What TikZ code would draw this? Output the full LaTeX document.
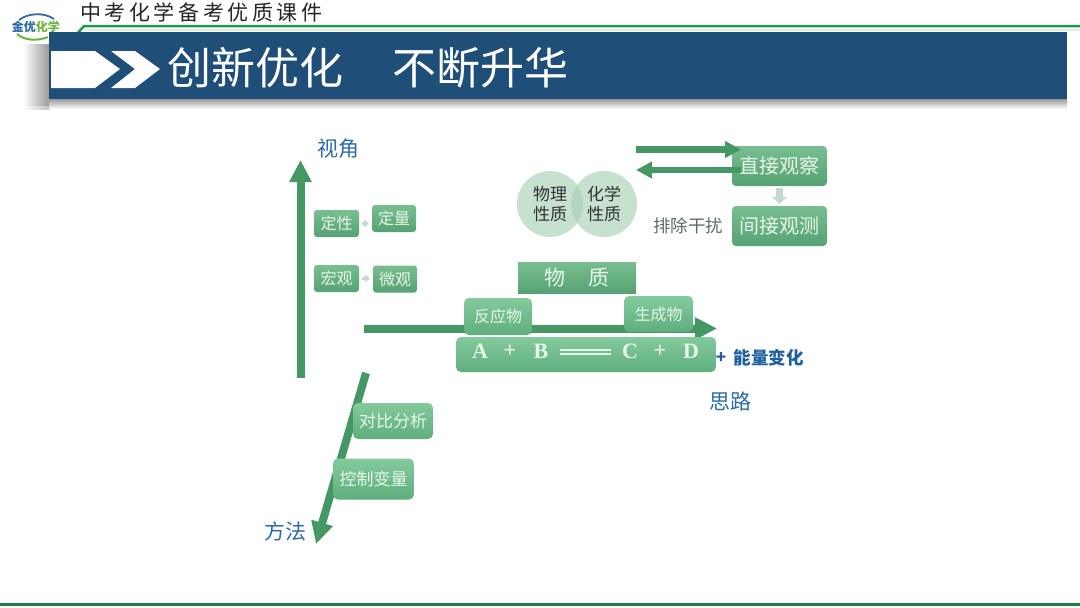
\documentclass[tikz,border=0pt]{standalone}
\usepackage{fontspec}
\setmainfont{Noto Sans CJK SC}
\newfontfamily\latinbold{Liberation Serif}
\usetikzlibrary{arrows.meta}
\definecolor{bannerblue}{HTML}{1F4E79}
\definecolor{arrgreen}{HTML}{459763}
\definecolor{linegreen}{HTML}{1E9A50}
\definecolor{boxtop}{HTML}{83CA9C}
\definecolor{boxbot}{HTML}{5FAE7D}
\definecolor{boxtopd}{HTML}{78BE90}
\definecolor{boxbotd}{HTML}{56A274}
\definecolor{boxtext}{HTML}{E8F6EA}
\definecolor{labelblue}{HTML}{2B6CA8}
\definecolor{energyblue}{HTML}{1F5F9F}
\definecolor{palearr}{HTML}{C4D9CA}
\definecolor{circlefill}{HTML}{A6CFB3}
\definecolor{logogreen}{HTML}{6FB23C}
\definecolor{greytext}{HTML}{5E6B60}
\definecolor{shadowgrey}{HTML}{9A9A9A}
\newcommand{\fs}[1]{\fontsize{#1}{#1}\selectfont}
\tikzset{
  gbox/.style={rounded corners=3pt,top color=boxtop,bottom color=boxbot,inner sep=0pt,
    text=boxtext,align=center,font=\fs{16}},
  dbox/.style={gbox,top color=boxtopd,bottom color=boxbotd},
  bigarr/.style={draw=arrgreen,line width=8pt,-{Triangle[width=21pt,length=22pt]}},
  midarr/.style={draw=arrgreen,line width=6.5pt,-{Triangle[width=16pt,length=16pt]}},
  tinyarr/.style={draw=palearr,line width=3pt,-{Triangle[width=8pt,length=5pt]},shorten >=3pt,shorten <=3pt},
  downarr/.style={draw=palearr,line width=7pt,-{Triangle[width=15pt,length=7pt]},shorten >=2pt,shorten <=2pt},
  axislabel/.style={text=labelblue,font=\fs{21}},
  circ/.style={circle,minimum size=66pt,inner sep=0pt,fill=circlefill,fill opacity=.62,
    text opacity=1,text=black!80,align=center,font=\fs{17}},
  titletxt/.style={text=white,font=\fs{44}},
  eqtxt/.style={text=boxtext,font=\latinbold\bfseries\fs{22}},
}
\begin{document}
\begin{tikzpicture}[x=1pt,y=-1pt]
\useasboundingbox (0,0) rectangle (1080,608);
\fill[white] (0,0) rectangle (1080,608);
% header
\node[anchor=west,inner sep=0pt,text=black!85,font=\addfontfeature{LetterSpace=17}\fs{21}] (head) at (80,12) {中考化学备考优质课件};
\draw[linegreen,line width=2.5pt] (76,35) -- (84,26) -- (1080,26);
\draw[green!25!black!10,line width=1.5pt] (84,30) -- (1080,30);
% banner shadow
\shade[left color=white,right color=shadowgrey] (23,44) rectangle (49,106);
\shade[top color=shadowgrey,bottom color=white] (49,99) rectangle (1067,109);
\shade[left color=white,right color=shadowgrey!60] (23,106) rectangle (49,109);
\fill[bannerblue] (49,32) rectangle (1067,99);
\fill[white] (51,51) -- (95,51) -- (120,69) -- (95,88) -- (51,88) -- cycle;
\fill[white] (111,51) -- (135,51) -- (160,69) -- (135,88) -- (111,88) -- (135,69) -- cycle;
\node[titletxt] (t1) at (255,68) {创新优化};
\node[titletxt] (t2) at (480,68) {不断升华};
% logo
\draw[labelblue,line width=1.8pt] (19,20) .. controls (28,13) and (44,12) .. (54,19);
\draw[logogreen,line width=2pt] (17,34) .. controls (25,41) and (38,41) .. (48,37);
\node[inner sep=0pt,font=\bfseries\fs{12},text=labelblue] (logo) at (36,27) {金优\textcolor{logogreen}{化学}};
% coordinates of arrows
\coordinate (ups) at (300.5,378);
\coordinate (upe) at (300.5,160);
\coordinate (hs) at (364,328.5);
\coordinate (he) at (717,328.5);
\coordinate (ds) at (366,373);
\coordinate (de) at (316,544);
\coordinate (a1s) at (636,149.5);
\coordinate (a1e) at (741,149.5);
\coordinate (a2s) at (741,170);
\coordinate (a2e) at (636,170);
\draw[bigarr] (ups) -- (upe);
\draw[bigarr] (hs) -- (he);
\draw[bigarr] (ds) -- (de);
% labels
\node[axislabel] (shijiao) at (338,149) {视角};
\node[axislabel] (silu) at (730,401) {思路};
\node[axislabel] (fangfa) at (285,531) {方法};
% left boxes
\node[dbox,minimum width=45pt,minimum height=27pt] (dingxing) at (336.5,223.5) {定性};
\node[dbox,minimum width=44pt,minimum height=27pt] (dingliang) at (394,218.5) {定量};
\node[dbox,minimum width=45pt,minimum height=27pt] (hongguan) at (336.5,278.5) {宏观};
\node[dbox,minimum width=44pt,minimum height=27pt] (weiguan) at (395,279) {微观};
\draw[tinyarr] (dingxing.east) -- (dingxing.east -| dingliang.west);
\draw[tinyarr] (hongguan.east) -- (hongguan.east -| weiguan.west);
% method boxes
\node[gbox,rounded corners=5pt,minimum width=80pt,minimum height=36pt,font=\fs{17}] (duibi) at (393,421) {对比分析};
\node[gbox,rounded corners=5pt,minimum width=81pt,minimum height=41pt,font=\fs{17}] (kongzhi) at (373.5,479) {控制变量};
% reaction
\node[gbox,rounded corners=5pt,minimum width=68pt,minimum height=37pt] (fanying) at (498,316.5) {反应物};
\node[gbox,rounded corners=5pt,minimum width=69pt,minimum height=36pt] (shengcheng) at (658.5,314) {生成物};
\node[gbox,rounded corners=5pt,minimum width=260pt,minimum height=35pt] (eq) at (586,354.5) {};
\node[eqtxt] (ea) at (480,351) {A};
\node[eqtxt] (ep1) at (510,351) {+};
\node[eqtxt] (eb) at (541,351) {B};
\node[eqtxt] (ec) at (630,351) {C};
\node[eqtxt] (ep2) at (660,351) {+};
\node[eqtxt] (ed) at (691,351) {D};
\draw[boxtext,line width=2pt] (560,349.5) -- (611,349.5) (560,354) -- (611,354);
\node[inner sep=0pt,text=energyblue,font=\bfseries\fs{17}] (plus) at (721,358) {+};
\node[inner sep=0pt,text=energyblue,font=\bfseries\fs{17.5}] (energy) at (768.5,358) {能量变化};
% matter box
\node[dbox,rounded corners=0pt,minimum width=118pt,minimum height=31pt,font=\fs{21}] (wuzhi) at (577,277.5) {物\hspace{24pt}质};
% circles
\node[circ] (wuli) at (550,204) {物理\\[3pt]性质};
\node[circ] (huaxue) at (604,204) {化学\\[3pt]性质};
% observation
\node[dbox,rounded corners=4pt,minimum width=95pt,minimum height=40pt,font=\fs{20}] (zhijie) at (779.5,166) {直接观察};
\node[dbox,rounded corners=4pt,minimum width=95pt,minimum height=40pt,font=\fs{20}] (jianjie) at (779.5,226) {间接观测};
\draw[downarr] (zhijie.south) -- (jianjie.north);
\node[inner sep=0pt,text=greytext,font=\fs{17.5}] (paichu) at (688,226) {排除干扰};
\draw[midarr] (a1s) -- (a1e);
\draw[midarr] (a2s) -- (a2e);
% bottom line
\draw[linegreen!85!black,line width=3pt] (0,604.5) -- (1080,604.5);
\end{tikzpicture}
\end{document}
